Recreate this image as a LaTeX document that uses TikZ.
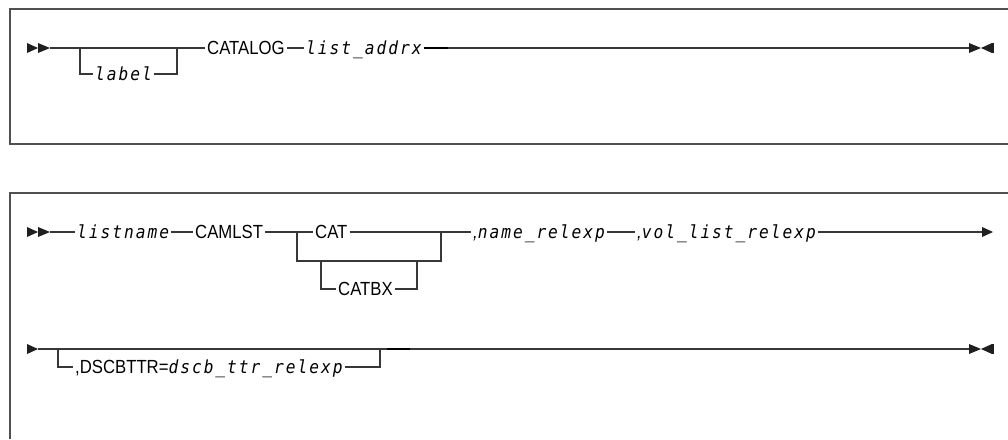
\documentclass[tikz,border=0pt]{standalone}
\usepackage{fontspec}
\setmainfont{Liberation Sans}
\newfontfamily\kwfont{Liberation Sans}[FakeStretch=0.88]
\newfontfamily\varfont{DejaVu Sans Mono}[FakeStretch=0.9, LetterSpace=11]
\newcommand{\kwstyle}{\kwfont\fontsize{19}{22}\selectfont}
\newcommand{\varstyle}{\varfont\itshape\fontsize{18}{21}\selectfont}
\usepackage{xcolor}
\definecolor{railgray}{RGB}{55,55,55}
\definecolor{framegray}{RGB}{80,80,80}
\usetikzlibrary{positioning}

\tikzset{
  rail/.style={draw=railgray, line width=1.1pt},
  frame/.style={draw=framegray, line width=1.5pt},
  kw/.style={font=\kwstyle, anchor=west, inner xsep=2pt, inner ysep=0pt, text height=13.6pt, text depth=0pt},
  var/.style={kw, font=\varstyle},
  tipfill/.style={fill=black!88}
}

\begin{document}
\begin{tikzpicture}[x=1pt, y=-1pt]
    \useasboundingbox (0,0) rectangle (1008,439);
    % Open frames
    \draw[frame] (1008,9) -- (10,9) -- (10,144) -- (1008,144);
    \draw[frame] (1008,193) -- (10,193) -- (10,439);

    % Start and end marks
    \foreach \ly in {48,232} {
        \fill[tipfill] (27,\ly-5) -- (38,\ly) -- (27,\ly+5) -- cycle;
        \fill[tipfill] (38,\ly-5) -- (50,\ly) -- (38,\ly+5) -- cycle;
    }
    \fill[tipfill] (27,344) -- (38,349) -- (27,354) -- cycle;
    \foreach \ly in {48,349} {
        \fill[tipfill] (969,\ly-5) -- (981,\ly) -- (969,\ly+5) -- cycle;
        \fill[tipfill] (992,\ly-5) -- (981,\ly) -- (992,\ly+5) -- cycle;
        \fill[tipfill] (992,\ly-5) rectangle (994,\ly+5);
    }
    \fill[tipfill] (982,227) -- (993,232) -- (982,237) -- cycle;

    % Row 1
    \coordinate (s1) at (50,48);
    \coordinate (e1) at (969,48);
    \coordinate (lblL) at (80,48);
    \coordinate (lblR) at (177,48);
    \node[var] (label) at (93,74) {label};
    \node[kw] (catalog) at (205,48) {CATALOG};
    \node[var] (addrx) at (304,48) {list\_addrx};
    \draw[rail] (s1) -- (catalog);
    \draw[rail] (lblL) |- (label);
    \draw[rail] (label) -| (lblR);
    \draw[rail] (catalog) -- (addrx);
    \draw[rail] (addrx) -- (e1);
    \draw[rail, line width=1.6pt, draw=black] (addrx.east) -- ++(24,0);

    % Row 2
    \coordinate (s2) at (50,232);
    \coordinate (a2) at (982,232);
    \coordinate (catL) at (297,232);
    \coordinate (catR) at (441,232);
    \coordinate (bxL) at (321,261);
    \coordinate (bxR) at (417,261);
    \node[var] (listname) at (75,232) {listname};
    \node[kw] (camlst) at (193,232) {CAMLST};
    \node[kw] (cat) at (313,232) {CAT};
    \node[kw] (catbx) at (336,289) {CATBX};
    \node[var] (name) at (471,232) {{\kwstyle,}name\_relexp};
    \node[var] (vol) at (635,232) {{\kwstyle,}vol\_list\_relexp};
    \draw[rail] (s2) -- (listname);
    \draw[rail] (listname) -- (camlst);
    \draw[rail] (camlst) -- (cat);
    \draw[rail] (cat) -- (name);
    \draw[rail] (catL) |- (bxL) -- (bxR) -| (catR);
    \draw[rail] (bxL) |- (catbx);
    \draw[rail] (catbx) -| (bxR);
    \draw[rail] (name) -- (vol);
    \draw[rail] (vol) -- (a2);

    % Row 3
    \coordinate (s3) at (38,349);
    \coordinate (e3) at (969,349);
    \coordinate (dsL) at (58,349);
    \coordinate (dsR) at (380,349);
    \node[kw] (dscb) at (73,367) {,DSCBTTR={\varstyle dscb\_ttr\_relexp}};
    \draw[rail] (s3) -- (e3);
    \draw[rail] (dsL) |- (dscb);
    \draw[rail] (dscb) -| (dsR);
    \draw[rail, line width=1.6pt, draw=black] (387,349) -- (410,349);
\end{tikzpicture}
\end{document}
